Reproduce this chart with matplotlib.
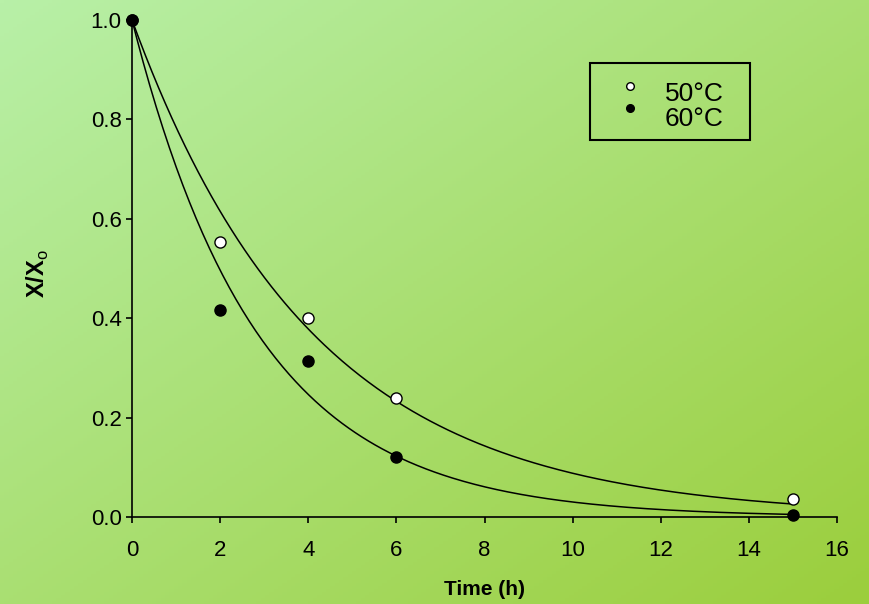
import numpy as np
import matplotlib
matplotlib.use("Agg")
import matplotlib.pyplot as plt
from matplotlib.patches import Rectangle

plt.rcParams['font.family'] = ['Liberation Sans', 'DejaVu Sans']
plt.rcParams['mathtext.fontset'] = 'custom'
plt.rcParams['mathtext.rm'] = 'Liberation Sans'
plt.rcParams['mathtext.bf'] = 'Liberation Sans:bold'

# measured points
time_h = [0, 2, 4, 6, 15]
x50 = [1.0, 0.553, 0.400, 0.239, 0.036]
x60 = [1.0, 0.416, 0.314, 0.121, 0.004]
# first-order fit rate constants (1/h)
k50 = 0.243
k60 = 0.350
labels = ['50°C', '60°C']
xticks = [0, 2, 4, 6, 8, 10, 12, 14, 16]
yticks = [0.0, 0.2, 0.4, 0.6, 0.8, 1.0]

fig = plt.figure(figsize=(8.69, 6.04), dpi=100)

# diagonal green gradient background
bg = fig.add_axes([0, 0, 1, 1], zorder=-10)
gy, gx = np.mgrid[0:1:200j, 0:1:200j]
t = (gx + gy) / 2.0
c0 = np.array([184, 240, 168]) / 255.0
c1 = np.array([155, 206, 60]) / 255.0
img = c0[None, None, :] * (1 - t[..., None]) + c1[None, None, :] * t[..., None]
bg.imshow(img, aspect='auto', extent=[0, 1, 0, 1], origin='upper')
bg.axis('off')

ax = fig.add_axes([0.1519, 0.144, 0.8113, 0.823])
ax.patch.set_visible(False)

tt = np.linspace(0, 15, 300)
ax.plot(tt, np.exp(-k50 * tt), color='black', lw=1.1)
ax.plot(tt, np.exp(-k60 * tt), color='black', lw=1.1)

ax.plot(time_h, x50, 'o', ms=8, mfc='white', mec='black', mew=1.0,
        ls='none', clip_on=False, zorder=5)
ax.plot(time_h, x60, 'o', ms=8, mfc='black', mec='black', mew=1.0,
        ls='none', clip_on=False, zorder=5)

ax.set_xlim(0, 16)
ax.set_ylim(0, 1.0)
ax.set_xticks(xticks)
ax.set_yticks(yticks)
ax.set_xticklabels([str(v) for v in xticks])
ax.set_yticklabels([f"{v:.1f}" for v in yticks])
ax.tick_params(direction='out', length=4.5, width=1.2, labelsize=16)
ax.tick_params(axis='x', pad=12)
ax.tick_params(axis='y', pad=3)
for s in ['top', 'right']:
    ax.spines[s].set_visible(False)
for s in ['left', 'bottom']:
    ax.spines[s].set_linewidth(1.2)

ax.set_xlabel('Time (h)', fontsize=15, fontweight='bold', labelpad=14)
ax.set_ylabel(r'$\mathbf{X/X}_{\mathrm{o}}$', fontsize=17)
ax.yaxis.set_label_coords(-0.115, 0.49)

# legend box, drawn in axes coordinates
tr = ax.transAxes
ax.add_patch(Rectangle((0.6496, 0.7586), 0.227, 0.1549, transform=tr,
                       fill=False, ec='black', lw=1.5, clip_on=False))
fills = ['white', 'black']
for i, (lab, fc) in enumerate(zip(labels, fills)):
    ym = 0.867 - i * 0.044
    ax.plot([0.7064], [ym], 'o', ms=5.5, mfc=fc, mec='black', mew=1.0,
            transform=tr, clip_on=False)
    ax.text(0.756, 0.8376 - i * 0.0503, lab, transform=tr, fontsize=19,
            ha='left', va='baseline')

fig.savefig('out.png', dpi=100)
